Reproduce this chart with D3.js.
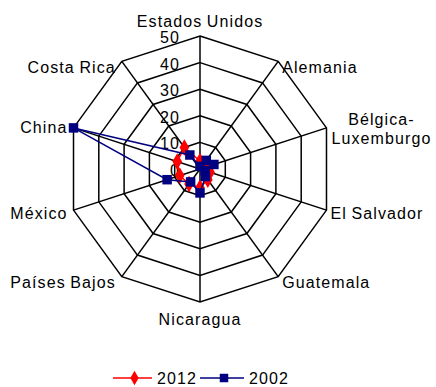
<!DOCTYPE html>
<html><head><meta charset="utf-8">
<script src="https://cdn.jsdelivr.net/npm/d3@7"></script>
<style>
html,body{margin:0;padding:0;background:#fff;}
svg{display:block;}
text{font-family:Arial,"Liberation Sans",sans-serif;font-size:16px;letter-spacing:1.1px;word-spacing:-1px;fill:#000;}
</style></head>
<body>
<svg id="c" width="436" height="387"></svg>
<script>
const categories = ["Estados Unidos","Alemania","Bélgica-Luxemburgo","El Salvador","Guatemala","Nicaragua","Países Bajos","México","China","Costa Rica"];
const values2012 = [3, 2, 3, 4, 5, 7, 7, 8, 9, 10];
const values2002 = [1, 4, 5.5, 2, 3.5, 9, 6, 13, 50, 6.5];
const seriesNames = ["2012","2002"];
const tickValues = [0,10,20,30,40,50];

const svg = d3.select("#c");
const cx = 200, cy = 169, R = 133;
const n = categories.length;
const r = d3.scaleLinear().domain([0,50]).range([0,R]);
const ang = d3.scaleLinear().domain([0,n]).range([0,2*Math.PI]);
const pt = (i,v) => [cx + r(v)*Math.sin(ang(i)), cy - r(v)*Math.cos(ang(i))];

const g = svg.append("g");
// rings
tickValues.filter(t=>t>0).forEach(t=>{
  g.append("polygon")
   .attr("points", d3.range(n).map(i=>pt(i,t).join(",")).join(" "))
   .attr("fill","none").attr("stroke","#000").attr("stroke-width",1.5);
});
// spokes
d3.range(n).forEach(i=>{
  const [x,y] = pt(i,50);
  g.append("line").attr("x1",cx).attr("y1",cy).attr("x2",x).attr("y2",y)
   .attr("stroke","#000").attr("stroke-width",1.5);
});
// tick labels
tickValues.forEach(t=>{
  g.append("text").attr("x",cx-20).attr("y",cy - r(t) + 1.5)
   .attr("text-anchor","end").attr("dominant-baseline","central").text(t);
});
// category labels
categories.forEach((c,i)=>{
  const a = ang(i), s = Math.sin(a), co = Math.cos(a);
  const [vx,vy] = pt(i,50);
  let x = vx, y = vy, anchor, base = "central";
  if (Math.abs(s) < 0.1) {
    anchor = "middle";
    y = co > 0 ? vy - 15 : vy + 17;
  } else {
    anchor = s > 0 ? "start" : "end";
    x = vx + (s > 0 ? 4 : -6);
    y = Math.abs(s) > 0.9 ? vy + 3 : vy + 6;
    if (Math.abs(s) > 0.9 && co > 0) y = vy;
  }
  const parts = c.includes("-") ? [c.split("-")[0]+"-", c.split("-")[1]] : [c];
  if (parts.length === 1) {
    g.append("text").attr("x",x).attr("y",y).attr("text-anchor",anchor)
     .attr("dominant-baseline",base).text(c);
  } else {
    const t = g.append("text").attr("text-anchor","middle").attr("dominant-baseline",base);
    const t1 = t.append("tspan").attr("x",0).attr("y",vy-9).text(parts[0]);
    const t2 = t.append("tspan").attr("x",0).attr("y",vy+10).text(parts[1]);
    const w = Math.max(t1.node().getComputedTextLength(), t2.node().getComputedTextLength());
    const mx = x + 1 + w/2;
    t1.attr("x",mx); t2.attr("x",mx);
  }
});

// series: 2012 drawn first, then 2002 on top
const line = d3.line().curve(d3.curveLinearClosed);
const series = [
  {name:seriesNames[0], vals:values2012, color:"#ff0000", sym:d3.symbolDiamond, size:80},
  {name:seriesNames[1], vals:values2002, color:"#000080", sym:d3.symbolSquare, size:90}
];
series.forEach(s=>{
  const pts = s.vals.map((v,i)=>pt(i,v));
  g.append("path").attr("d",line(pts)).attr("fill","none")
   .attr("stroke",s.color).attr("stroke-width",1.5);
  s.vals.forEach((v,i)=>{
    const [x,y] = pt(i,v);
    g.append("path").attr("d",d3.symbol().type(s.sym).size(s.size)())
     .attr("transform",`translate(${x},${y})`).attr("fill",s.color);
  });
});

// legend
const leg = svg.append("g");
const legItems = [
  {name:seriesNames[0], color:"#ff0000", sym:d3.symbolDiamond, size:60, x1:113, x2:152, tx:157},
  {name:seriesNames[1], color:"#000080", sym:d3.symbolSquare, size:72, x1:200, x2:244, tx:249}
];
const ly = 378;
legItems.forEach(it=>{
  leg.append("line").attr("x1",it.x1).attr("x2",it.x2).attr("y1",ly).attr("y2",ly)
   .attr("stroke",it.color).attr("stroke-width",1.5);
  leg.append("path").attr("d",d3.symbol().type(it.sym).size(it.size)())
   .attr("transform",`translate(${(it.x1+it.x2)/2+2},${ly})`).attr("fill",it.color);
  leg.append("text").attr("x",it.tx).attr("y",ly).attr("dominant-baseline","central").text(it.name);
});
</script>
</body></html>
